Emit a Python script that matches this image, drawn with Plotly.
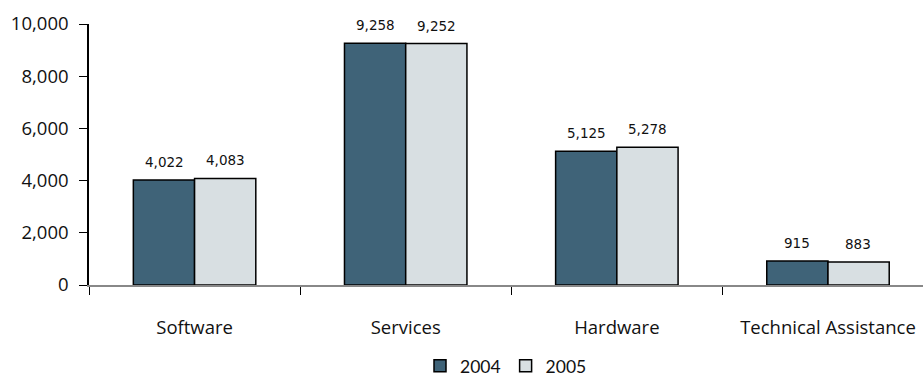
import plotly.graph_objects as go

categories = ["Software", "Services", "Hardware", "Technical Assistance"]
values_2004 = [4022, 9258, 5125, 915]
values_2005 = [4083, 9252, 5278, 883]
y_ticks = [0, 2000, 4000, 6000, 8000, 10000]
y_tick_labels = ["0", "2,000", "4,000", "6,000", "8,000", "10,000"]

label_font = dict(family="DejaVu Sans, Liberation Sans, Arial", size=13.5, color="#111111")

fig = go.Figure()
fig.add_trace(go.Bar(
    name="2004", x=categories, y=values_2004,
    marker=dict(color="#3F6378", line=dict(color="#000000", width=1.5)),
))
fig.add_trace(go.Bar(
    name="2005", x=categories, y=values_2005,
    marker=dict(color="#D8DFE2", line=dict(color="#000000", width=1.5)),
))

# value labels above bars
for vals, shift in ((values_2004, -30.5), (values_2005, 30.5)):
    for c, v in zip(categories, vals):
        fig.add_annotation(
            x=c, y=v, xref="x", yref="y", text=f"{v:,}", showarrow=False,
            xshift=shift, yshift=8, yanchor="bottom", font=label_font,
        )

fig.update_layout(
    width=923, height=376,
    margin=dict(l=89, r=0, t=24, b=91, autoexpand=False),
    paper_bgcolor="white", plot_bgcolor="white",
    barmode="group", bargap=0.42, bargroupgap=0,
    font=dict(family="Open Sans, Lato, sans-serif", size=16, color="#111111"),
    showlegend=True,
    legend=dict(orientation="h", x=0.5, xanchor="center", y=-0.31, yanchor="middle",
                font=dict(family="Lato, Open Sans, sans-serif", size=17.5, color="#111111"),
                itemwidth=30, traceorder="normal"),
)
fig.update_xaxes(
    range=[-0.5, 3.45], showline=True, linecolor="#888888", linewidth=1.5,
    ticks="outside", tickson="boundaries", ticklen=8, tickcolor="#000000", tickwidth=1,
    ticklabelstandoff=25, tickfont=dict(size=18.5, color="#111111"), showgrid=False,
)
fig.update_yaxes(
    range=[0, 10000], tickvals=y_ticks, ticktext=y_tick_labels,
    showline=True, linecolor="#000000", linewidth=1.5,
    ticks="outside", ticklen=8, tickcolor="#000000", tickwidth=1,
    ticklabelstandoff=7, tickfont=dict(size=18.5, color="#111111"),
    showgrid=False, zeroline=False,
)

fig.write_html("out.html")
